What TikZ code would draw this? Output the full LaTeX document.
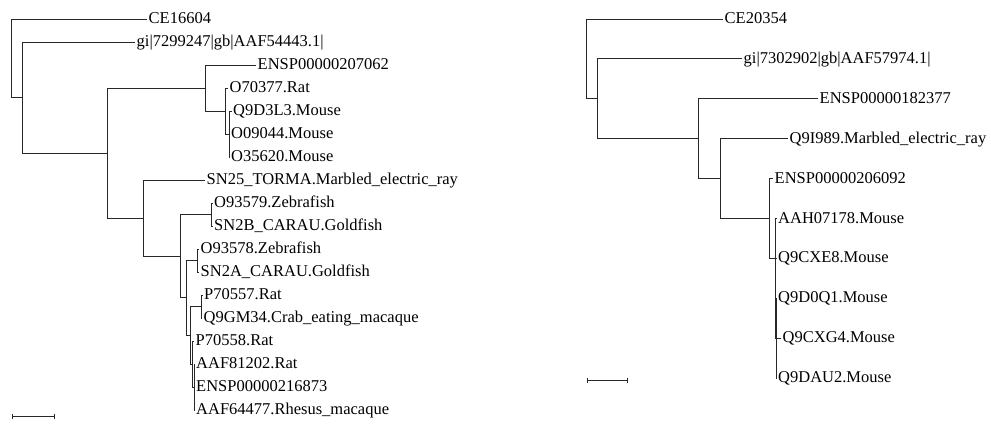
\documentclass[tikz,border=0pt]{standalone}
\usepackage{fontspec}
\setmainfont{Liberation Serif}
\usetikzlibrary{arrows.meta}
\definecolor{treeline}{RGB}{40,40,40}
\tikzset{
  branch/.style={draw=treeline,line width=0.9pt},
  leaf/.style={anchor=base west,inner xsep=1.5pt,inner ysep=0pt,
               yshift=-4.5pt,text=black,font=\fontsize{16.5}{19}\selectfont},
  scalebar/.style={draw=treeline,line width=0.9pt,
                   {Bar[width=5pt]}-{Bar[width=5pt]}},
}

\begin{document}
\begin{tikzpicture}[x=1pt,y=-1pt]
  \useasboundingbox (0,0) rectangle (991,426);
  % left tree
  \foreach \n/\x/\y/\t in {
      ce16604/147/19/CE16604,
      gi7299247/135/42/gi|7299247|gb|AAF54443.1|,
      ensp207062/256/65/ENSP00000207062,
      o70377/228/88/O70377.Rat,
      q9d3l3/231.5/111/Q9D3L3.Mouse,
      o09044/229.5/134/O09044.Mouse,
      o35620/229.5/157/O35620.Mouse,
      sn25/205/180/SN25\_TORMA.Marbled\_electric\_ray,
      o93579/212.5/203/O93579.Zebrafish,
      sn2b/212.5/226/SN2B\_CARAU.Goldfish,
      o93578/199/249/O93578.Zebrafish,
      sn2a/199/272/SN2A\_CARAU.Goldfish,
      p70557/202.5/295/P70557.Rat,
      q9gm34/202/318/Q9GM34.Crab\_eating\_macaque,
      p70558/194/341/P70558.Rat,
      aaf81202/194.5/364/AAF81202.Rat,
      ensp216873/194.5/387/ENSP00000216873,
      aaf64477/194.5/410/AAF64477.Rhesus\_macaque}
  {
    \coordinate (\n) at (\x,\y);
    \node[leaf] (\n-txt) at (\n) {\t};
  }
  \coordinate (lroot) at (11,58.3);
  \coordinate (lgi) at (22,97.5);
  \coordinate (lm) at (107,153);
  \coordinate (le) at (205,88);
  \coordinate (lo) at (225,111);
  \coordinate (lq) at (229,134);
  \coordinate (ls) at (143,218.1);
  \coordinate (lb) at (180,256.2);
  \coordinate (la) at (211,214.5);
  \coordinate (ld) at (186.5,297.9);
  \coordinate (lc) at (197.5,260.5);
  \coordinate (lx) at (190.5,335.25);
  \coordinate (lf) at (201,306.5);
  \coordinate (lg) at (192.5,364);
  \coordinate (lh) at (194,387);
  \foreach \a/\b in {lroot/ce16604, lroot/lgi, lgi/gi7299247, lgi/lm,
      lm/le, lm/ls, le/ensp207062, le/lo, lo/o70377, lo/lq,
      lq/q9d3l3, lq/o09044, lq/o35620, ls/sn25, ls/lb, lb/la, lb/ld,
      la/o93579, la/sn2b, ld/lc, ld/lx, lc/o93578, lc/sn2a,
      lx/lf, lx/lg, lf/p70557, lf/q9gm34, lg/p70558, lg/lh,
      lh/aaf81202, lh/ensp216873, lh/aaf64477}
    \draw[branch] (\a) |- (\b);
  \coordinate (lbar-a) at (11.7,416);
  \coordinate (lbar-b) at (55,416);
  \draw[scalebar] (lbar-a) -- (lbar-b);

  % right tree
  \foreach \n/\x/\y/\t in {
      ce20354/723/19/CE20354,
      gi7302902/742/58.9/gi|7302902|gb|AAF57974.1|,
      ensp182377/818/98.8/ENSP00000182377,
      q9i989/788/138.7/Q9I989.Marbled\_electric\_ray,
      ensp206092/773/178.6/ENSP00000206092,
      aah07178/776.5/218.5/AAH07178.Mouse,
      q9cxe8/776.5/258.4/Q9CXE8.Mouse,
      q9d0q1/776.5/298.3/Q9D0Q1.Mouse,
      q9cxg4/781/338.2/Q9CXG4.Mouse,
      q9dau2/776.5/378.1/Q9DAU2.Mouse}
  {
    \coordinate (\n) at (\x,\y);
    \node[leaf] (\n-txt) at (\n) {\t};
  }
  \coordinate (rr) at (586,58.9);
  \coordinate (rg) at (597,98.8);
  \coordinate (re) at (698,138.7);
  \coordinate (rq) at (720,178.6);
  \coordinate (r1) at (769,218.5);
  \coordinate (r2) at (775,258.4);
  \coordinate (r3) at (775.5,298.3);
  \coordinate (r4) at (776,338.2);
  \foreach \a/\b in {rr/ce20354, rr/rg, rg/gi7302902, rg/re,
      re/ensp182377, re/rq, rq/q9i989, rq/r1, r1/ensp206092, r1/r2,
      r2/aah07178, r2/r3, r3/q9cxe8, r3/r4,
      r4/q9d0q1, r4/q9cxg4, r4/q9dau2}
    \draw[branch] (\a) |- (\b);
  \coordinate (rbar-a) at (587,380);
  \coordinate (rbar-b) at (628,380);
  \draw[scalebar] (rbar-a) -- (rbar-b);
\end{tikzpicture}
\end{document}
